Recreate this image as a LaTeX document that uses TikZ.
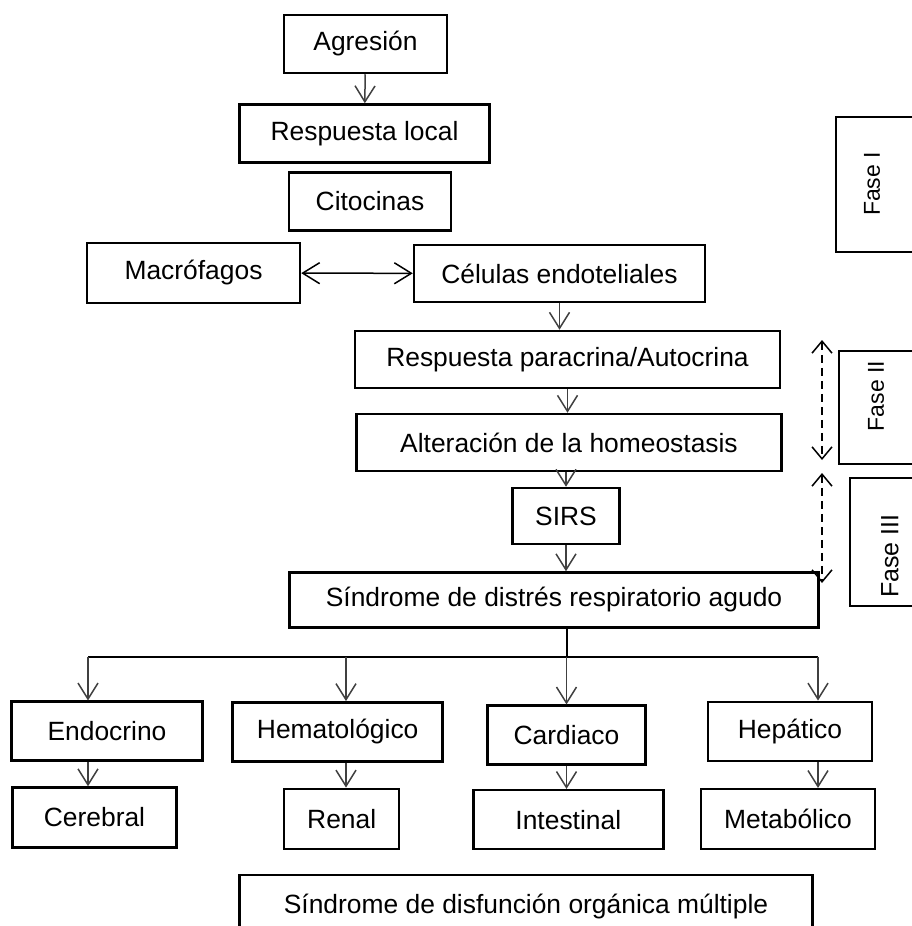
\documentclass[tikz,border=0pt]{standalone}
\usepackage{fontspec}
\setmainfont{Liberation Sans}
\usetikzlibrary{arrows.meta}
\begin{document}
\begin{tikzpicture}
[x=1pt,y=-1pt,
 every node/.style={font=\fontsize{26.4}{31}\selectfont},
 box/.style={draw,line width=2.5pt,inner sep=0pt,minimum height=58pt},
 fasebox/.style={draw,line width=1.3pt},
 faselabel/.style={rotate=90,font=\fontsize{23}{27}\selectfont},
 arr/.style={-{Straight Barb[length=16pt,width=20pt,line width=1.5pt]},line width=1.5pt,black!75},
 dblarr/.style={{Straight Barb[length=17pt,width=21pt,line width=1.5pt]}-{Straight Barb[length=17pt,width=21pt,line width=1.5pt]},line width=1.5pt},
 dasharr/.style={{Straight Barb[length=12pt,width=20pt,line width=1.5pt]}-{Straight Barb[length=12pt,width=20pt,line width=1.5pt]},line width=1.5pt,dash pattern=on 8pt off 5pt}]
\useasboundingbox (0,0) rectangle (912,926);
\clip (0,0) rectangle (912,926);
   % main chain
   \node[box,minimum width=163pt] (agr)  at (365.5,44)  {Agresión};
   \node[box,minimum width=250pt] (loc)  at (364.5,133.5) {Respuesta local};
   \node[box,minimum width=162pt] (cito) at (370,201.5) {Citocinas};
   \node[box,minimum width=213pt,minimum height=60pt] (macro) at (193.5,273) {Macrófagos};
   \node[box,minimum width=291pt,minimum height=57pt] (endo) at (559.5,273.5) {Células endoteliales};
   \node[box,minimum width=425pt,minimum height=57pt] (para) at (567.5,359.5) {Respuesta paracrina/Autocrina};
   \node[box,minimum width=425pt,minimum height=57pt] (alt)  at (569,442.5) {Alteración de la homeostasis};
   \node[box,minimum width=107pt,minimum height=56pt] (sirs) at (566,516) {SIRS};
   \node[box,minimum width=529pt,minimum height=55pt] (sdra) at (554,600) {Síndrome de distrés respiratorio agudo};
   % organs
   \node[box,minimum width=191pt,minimum height=59pt] (endoc) at (107,731.2)   {Endocrino};
   \node[box,minimum width=210pt,minimum height=59pt] (hema)  at (337.7,731.8) {Hematológico};
   \node[box,minimum width=158pt,minimum height=59pt] (card)  at (566.5,735.2) {Cardiaco};
   \node[box,minimum width=164pt,minimum height=59pt] (hep)   at (790,731.3)   {Hepático};
   \node[box,minimum width=164pt,minimum height=60pt] (cer)   at (94.5,817.5)  {Cerebral};
   \node[box,minimum width=115pt,minimum height=60pt] (ren)   at (341.7,818.8) {Renal};
   \node[box,minimum width=190pt,minimum height=59pt] (int)   at (568.3,819.7) {Intestinal};
   \node[box,minimum width=174pt,minimum height=60pt] (met)   at (788,819.2)   {Metabólico};
   \node[box,minimum width=573pt,minimum height=64pt] (sdmo)  at (526,907) {Síndrome de disfunción orgánica múltiple};
   % phases
   \draw[fasebox] (836,117) rectangle (930,252);
   \draw[fasebox] (839,351) rectangle (930,464);
   \draw[fasebox] (850,478) rectangle (930,606);
   \node[faselabel] (f1) at (872,184) {Fase I};
   \node[faselabel] (f2) at (876,396) {Fase II};
   \node[faselabel,font=\fontsize{25}{29}\selectfont] (f3) at (890,556) {Fase III};
   \coordinate (d1a) at (822,340);
   \coordinate (d1b) at (822,460);
   \coordinate (d2a) at (822,473);
   \coordinate (d2b) at (822,583);
   \draw[dasharr] (d1a) -- (d1b);
   \draw[dasharr] (d2a) -- (d2b);
   % branch
   \coordinate (b1) at (88,657);
   \coordinate (b2) at (346,657);
   \coordinate (b4) at (818,657);
   \draw[line width=2pt] (b1) -- (b4);
   \draw[line width=2pt] (sdra.south -| card.north) -- (card.north |- b1);
   \draw[dblarr] (macro) -- (endo);
    \path[arr]
    (agr) edge (loc)
    (endo) edge (para.north -| endo)
    (para) edge (alt.north -| para)
    (alt.south -| sirs) edge (sirs.north)
    (sirs) edge (sdra.north -| sirs)
    (card.north |- b1) edge (card.north)
    (b1) edge (b1 |- endoc.north)
    (b2) edge (b2 |- hema.north)
    (b4) edge (b4 |- hep.north)
    (endoc.south -| b1) edge (cer.north -| b1)
    (hema.south -| b2) edge (ren.north -| b2)
    (card) edge (int.north -| card)
    (hep.south -| b4) edge (met.north -| b4)
    ;
\end{tikzpicture}
\end{document}
